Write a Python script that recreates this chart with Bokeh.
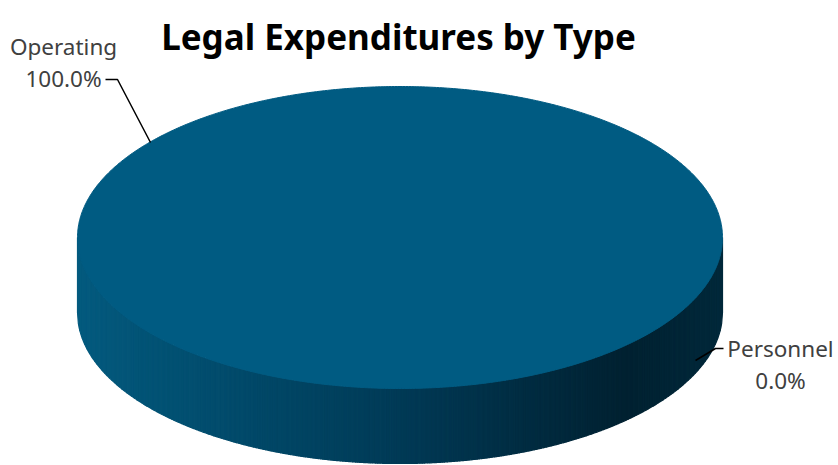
import numpy as np
from bokeh.plotting import figure
from bokeh.models import Range1d
from bokeh.core.properties import value
from bokeh.embed import file_html
from bokeh.resources import INLINE

# ---- data ----
categories = ["Operating", "Personnel"]
amounts = [100.0, 0.0]
slice_colors = ["#005b82", "#2e75b6"]
title_text = "Legal Expenditures by Type"

# ---- layout (screen pixel coordinates) ----
W, H = 838, 465
p = figure(width=W, height=H, output_backend="svg", toolbar_location=None,
           x_range=Range1d(0, W), y_range=Range1d(H, 0),
           min_border=0, outline_line_color=None)
p.axis.visible = False
p.grid.visible = False
p.background_fill_color = "white"
p.border_fill_color = "white"

cx, cy, a, b, depth = 399.5, 237.0, 322.5, 151.0, 75.0

total = sum(amounts)
fracs = [v / total for v in amounts]
pcts = [f * 100 for f in fracs]

# ---- side of the cylinder (front half) with horizontal shading ----
stops_t = [0.0, 0.5, 0.85, 1.0]
stops_c = [(3, 90, 126), (0, 58, 86), (0, 33, 49), (0, 40, 58)]

def shade(t):
    for i in range(len(stops_t) - 1):
        if stops_t[i] <= t <= stops_t[i + 1]:
            f = (t - stops_t[i]) / (stops_t[i + 1] - stops_t[i])
            c0, c1 = stops_c[i], stops_c[i + 1]
            return "#%02x%02x%02x" % tuple(int(round(c0[k] + (c1[k] - c0[k]) * f)) for k in range(3))
    return "#%02x%02x%02x" % stops_c[-1]

N = 260
xe = np.linspace(cx - a, cx + a, N + 1)
def edge_y(x):
    u = np.clip((x - cx) / a, -1, 1)
    return cy + b * np.sqrt(1 - u * u)

xs, ys, cols = [], [], []
for i in range(N):
    x0, x1 = xe[i], xe[i + 1]
    xm = np.linspace(x0, x1, 4)
    top = edge_y(xm)
    xs.append(list(xm) + list(xm[::-1]))
    ys.append(list(top) + list((top + depth)[::-1]))
    cols.append(shade((0.5 * (x0 + x1) - (cx - a)) / (2 * a)))
p.patches(xs, ys, fill_color=cols, line_color=cols, line_width=1.2)

# ---- top face: one wedge per slice ----
start = 0.0
for cat, f, col in zip(categories, fracs, slice_colors):
    if f <= 0:
        continue
    th = np.linspace(start, start + 2 * np.pi * f, 720)
    px = cx + a * np.sin(th)
    py = cy - b * np.cos(th)
    if f < 1:
        px = np.concatenate([[cx], px])
        py = np.concatenate([[cy], py])
    p.patch(list(px), list(py), fill_color=col, line_color=col, line_width=1)
    start += 2 * np.pi * f

# ---- title ----
p.text(x=[398], y=[36], text=[title_text], text_font=value("Noto Sans"),
       text_font_style="bold", text_font_size="35px", text_color="black",
       text_align="center", text_baseline="alphabetic")

# ---- data labels ----
lab_x = [63, 780]
lab_y = [46, 348]
lines1 = categories
lines2 = ["%.1f%%" % v for v in pcts]
p.text(x=lab_x, y=lab_y, text=lines1, text_font=value("Noto Sans"),
       text_font_size="22.5px", text_color="#404040", text_align="center",
       text_baseline="alphabetic")
p.text(x=lab_x, y=[v + 32 for v in lab_y], text=lines2, text_font=value("Noto Sans"),
       text_font_size="22.5px", text_color="#404040", text_align="center",
       text_baseline="alphabetic")

# leader lines
p.line([105, 117, 150], [79, 79, 142], line_color="black", line_width=1.5)
p.line([723, 715, 695], [348, 348, 360], line_color="black", line_width=1.5)

open("out.html", "w").write(file_html(p, INLINE))
